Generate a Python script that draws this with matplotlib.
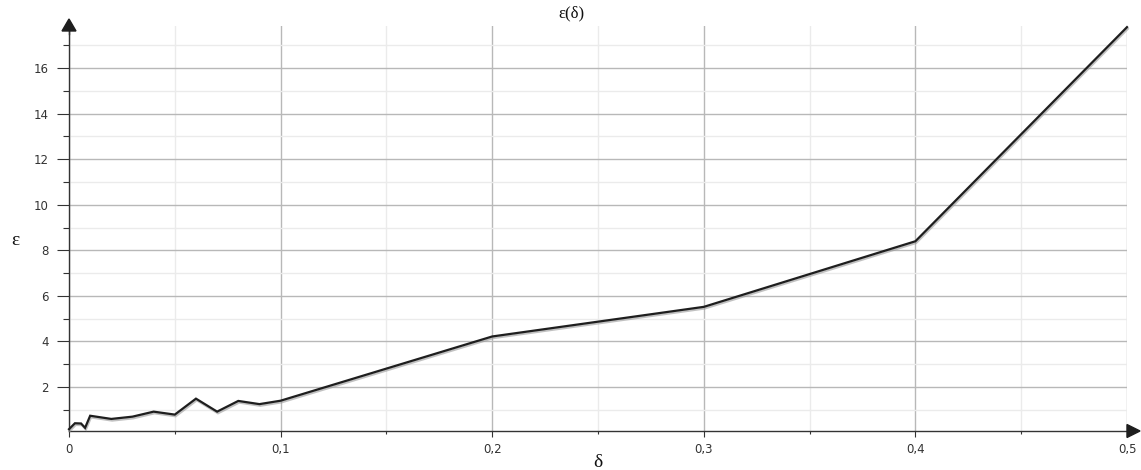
import matplotlib
matplotlib.use("Agg")
import matplotlib.pyplot as plt
import matplotlib.patheffects as pe
from matplotlib.ticker import MultipleLocator, FuncFormatter
from matplotlib.patches import Polygon

delta = [0, 0.0028, 0.0057, 0.0076, 0.01, 0.02, 0.03, 0.04, 0.05, 0.06,
         0.07, 0.08, 0.09, 0.1, 0.2, 0.3, 0.4, 0.5]
eps = [0.15, 0.41, 0.40, 0.21, 0.74, 0.60, 0.70, 0.92, 0.79, 1.49,
       0.92, 1.39, 1.25, 1.40, 4.22, 5.52, 8.40, 17.8]

title_text = "ε(δ)"
x_label = "δ"
y_label = "ε"

fig = plt.figure(figsize=(11.41, 4.70), dpi=100)
ax = fig.add_axes([69 / 1141, 39 / 470, 1058 / 1141, 405 / 470])

ax.set_xlim(0, 0.5)
ax.set_ylim(0.07, 17.85)

ax.xaxis.set_major_locator(MultipleLocator(0.1))
ax.xaxis.set_minor_locator(MultipleLocator(0.05))
ax.yaxis.set_major_locator(MultipleLocator(2))
ax.yaxis.set_minor_locator(MultipleLocator(1))

def fmt(v, pos):
    s = ("%.1f" % v).rstrip("0").rstrip(".")
    if s == "-0":
        s = "0"
    return s.replace(".", ",")

ax.xaxis.set_major_formatter(FuncFormatter(fmt))
ax.yaxis.set_major_formatter(FuncFormatter(lambda v, p: "%d" % round(v)))

ax.grid(True, which="major", color="#b8b8b8", linewidth=1.0)
ax.grid(True, which="minor", color="#ebebeb", linewidth=1.0)
ax.set_axisbelow(True)

for s in ["top", "right"]:
    ax.spines[s].set_visible(False)
for s in ["left", "bottom"]:
    ax.spines[s].set_color("#333333")
    ax.spines[s].set_linewidth(1.0)

ax.tick_params(axis="y", which="major", length=8.5, width=0.8, color="#333333",
               labelsize=8.5, pad=6, labelcolor="#333333")
ax.tick_params(axis="y", which="minor", length=4.5, width=0.8, color="#333333")
ax.tick_params(axis="x", which="major", length=4.5, width=0.8, color="#333333",
               labelsize=8.5, pad=4, labelcolor="#333333")
ax.tick_params(axis="x", which="minor", length=2.5, width=0.8, color="#333333")

ax.plot(delta, eps, color="#1e1e1e", linewidth=1.6, solid_joinstyle="miter",
        path_effects=[pe.SimpleLineShadow(offset=(0.6, -1.2), shadow_color="#999999", alpha=0.6),
                      pe.Normal()], zorder=5, clip_on=False)

# arrows
tr = ax.transAxes
xa = Polygon([[1.0, -0.016], [1.0123, 0.0], [1.0, 0.016]], closed=True,
             transform=tr, clip_on=False, color="#1e1e1e", zorder=6)
ya = Polygon([[-0.0066, 0.9877], [0.0, 1.0173], [0.0066, 0.9877]], closed=True,
             transform=tr, clip_on=False, color="#1e1e1e", zorder=6)
ax.add_patch(xa)
ax.add_patch(ya)
ax.plot([0, 0], [0.98, 1.0], transform=tr, color="#333333", lw=1.0, clip_on=False)

serif = ["Liberation Serif", "DejaVu Serif"]
ax.text(0.475, 1.03, title_text, transform=tr, ha="center", va="center",
        fontsize=12, family=serif, color="#111111")
ax.text(0.5, -0.077, x_label, transform=tr, ha="center", va="center",
        fontsize=14, family=serif, color="#111111")
ax.text(-0.051, 0.47, y_label, transform=tr, ha="center", va="center",
        fontsize=14, family=serif, color="#111111")

fig.savefig("out.png", dpi=100)
